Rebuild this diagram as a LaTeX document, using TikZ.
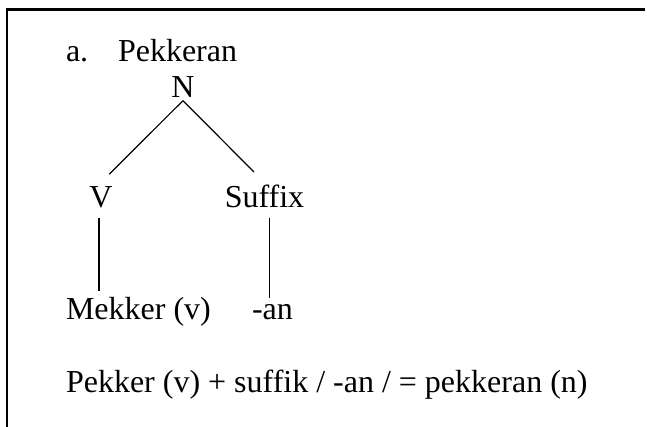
\documentclass[tikz,border=0pt]{standalone}
\usepackage{fontspec}
\setmainfont{Liberation Serif}[Ligatures=NoCommon]
\begin{document}
\begin{tikzpicture}[x=0.75pt,y=-0.75pt,
  tx/.style={font=\fontsize{24pt}{28pt}\selectfont, inner sep=0pt, outer sep=0pt},
  branch/.style={line width=0.9pt},
  frame/.style={line width=1.5pt}]
\fill[white] (0,0) rectangle (647,427);
\useasboundingbox (0,0) rectangle (647,427);
% frame (top and left edges only)
\coordinate (c0) at (7,9.5);
\coordinate (c1) at (645,9.5);
\coordinate (c2) at (7,427);
\draw[frame, line width=1.7pt] ([xshift=-0.6pt]c0) -- (c1);
\draw[frame, line width=1.3pt] (c0) -- (c2);
% texts
\node[tx, anchor=base west] (lab) at (66,62) {a.};
\node[tx, anchor=base west] (title) at (118,62) {Pekkeran};
\node[tx, anchor=base] (N) at (183,98) {N};
\node[tx, anchor=base] (V) at (101,208) {V};
\node[tx, anchor=base] (S) at (264.5,208) {Suffix};
\node[tx, anchor=base west] (M) at (66,320) {Mekker (v)};
\node[tx, anchor=base west] (an) at (252,320) {-an};
\node[tx, anchor=base west] (eq) at (66,393) {Pekker (v) + suffik / -an / = pekkeran (n)};
% branches
\draw[branch] ([yshift=-2pt]N.south) -- ([xshift=6.2pt,yshift=9.6pt]V.north);
\draw[branch] ([yshift=-2pt]N.south) -- ([xshift=-7.9pt,yshift=10.1pt]S.north);
\draw[branch] ([xshift=-1.5pt,yshift=-7pt]V.south) -- ([xshift=-1.5pt,yshift=5pt]V.south |- M.north);
\draw[branch] ([xshift=3.9pt,yshift=-7pt]S.south) -- ([xshift=3.9pt,yshift=5pt]S.south |- an.north);
\end{tikzpicture}
\end{document}
